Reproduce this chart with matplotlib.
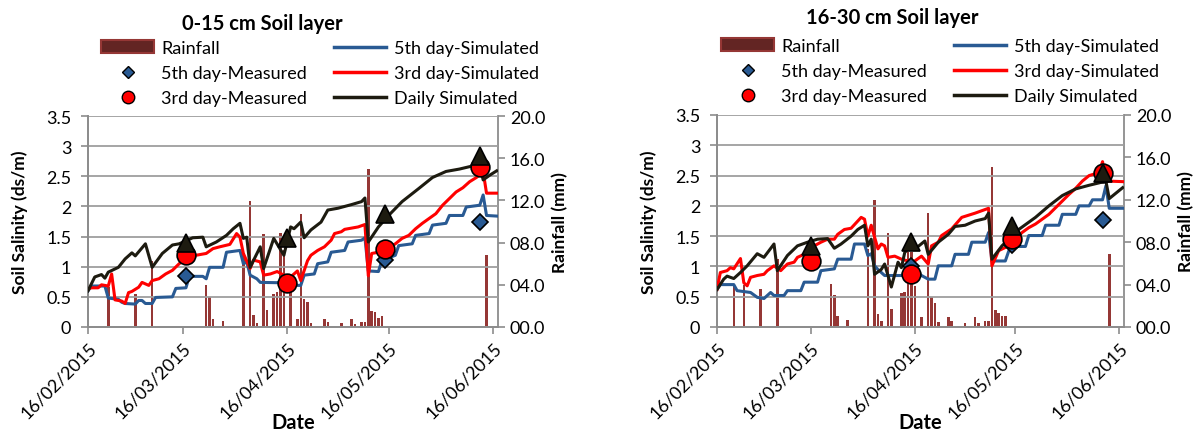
import pandas as pd
import matplotlib
matplotlib.use('Agg')
import matplotlib.pyplot as plt
from matplotlib.patches import Patch
from matplotlib.lines import Line2D

plt.rcParams['font.family'] = ['Lato', 'DejaVu Sans']

start = pd.Timestamp('2015-02-16')
tick_days = [0, 28, 59, 89, 120]
tick_labels = ['16/02/2015', '16/03/2015', '16/04/2015', '16/05/2015', '16/06/2015']

BLUE = '#295A93'
RED = '#FF0000'
BLACK = '#1D1B10'
RAIN = '#953735'

# ---------- 0-15 cm (days after 16/02/2015) ----------
top_daily_day = [0, 2, 4, 5, 6, 9, 11, 13, 14, 17, 19, 22, 25, 27, 31, 34, 35, 38, 41, 43, 45, 46, 47, 48,
                 51, 52, 55, 58, 60, 61, 63, 64, 66, 69, 71, 74, 78, 81, 82, 83, 86, 89, 93, 98, 102, 106,
                 110, 113, 116, 117, 119, 121]
top_daily_val = [0.60, 0.83, 0.87, 0.81, 0.91, 0.99, 1.13, 1.23, 1.18, 1.38, 0.99, 1.22, 1.36, 1.38, 1.48,
                 1.49, 1.33, 1.41, 1.52, 1.63, 1.72, 1.47, 1.49, 0.99, 1.33, 0.97, 1.47, 1.19, 1.66, 1.63,
                 1.74, 1.48, 1.61, 1.74, 1.94, 1.97, 2.03, 2.08, 2.14, 1.41, 1.66, 1.85, 2.08, 2.30, 2.48,
                 2.58, 2.62, 2.66, 2.69, 2.44, 2.52, 2.59]

top_3rd_day = [0, 1, 3, 4, 6, 7, 8, 10, 11, 12, 13, 15, 16, 18, 19, 21, 23, 25, 27, 29, 32, 35, 37, 39, 42,
               44, 45, 46, 48, 49, 51, 52, 54, 56, 58, 60, 62, 63, 65, 66, 68, 70, 72, 73, 75, 76, 78, 80,
               82, 83, 84, 86, 88, 91, 93, 95, 97, 99, 101, 103, 105, 107, 109, 111, 113, 115, 117, 118, 121]
top_3rd_val = [0.63, 0.65, 0.65, 0.70, 0.68, 0.88, 0.45, 0.43, 0.39, 0.57, 0.59, 0.66, 0.74, 0.69, 0.77,
               0.80, 0.88, 0.94, 1.05, 1.13, 1.19, 1.22, 1.30, 1.33, 1.37, 1.55, 1.49, 1.22, 0.97, 1.11,
               1.08, 0.86, 0.88, 0.92, 0.86, 0.83, 0.93, 0.77, 1.10, 1.19, 1.27, 1.33, 1.44, 1.55, 1.58,
               1.62, 1.64, 1.66, 1.70, 0.85, 1.22, 1.24, 1.27, 1.38, 1.47, 1.52, 1.63, 1.72, 1.80, 1.88,
               2.02, 2.13, 2.24, 2.31, 2.41, 2.48, 2.58, 2.22, 2.22]

top_5th_day = [0, 1, 5, 6, 9, 10, 11, 14, 15, 16, 17, 19, 20, 25, 26, 29, 30, 34, 35, 36, 40, 41, 45, 46,
               47, 48, 50, 51, 61, 62, 63, 64, 67, 68, 71, 72, 76, 77, 81, 82, 83, 86, 87, 91, 92, 96, 97,
               101, 102, 106, 107, 111, 112, 116, 117, 118, 121]
top_5th_val = [0.60, 0.68, 0.68, 0.48, 0.46, 0.41, 0.39, 0.38, 0.44, 0.44, 0.39, 0.39, 0.49, 0.50, 0.64,
               0.65, 0.84, 0.84, 0.80, 0.99, 0.99, 1.24, 1.27, 1.05, 1.08, 0.86, 0.80, 0.74, 0.73, 0.69,
               0.69, 0.86, 0.88, 1.05, 1.08, 1.24, 1.27, 1.41, 1.44, 1.48, 0.93, 0.92, 1.10, 1.19, 1.35,
               1.38, 1.52, 1.55, 1.69, 1.72, 1.85, 1.85, 1.99, 2.02, 2.19, 1.85, 1.84]

top_meas_day = [29, 59, 88, 116]
top_5th_meas = [0.84, 0.72, 1.11, 1.74]
top_3rd_meas = [1.19, 0.73, 1.29, 2.66]
top_daily_meas = [1.39, 1.48, 1.87, 2.83]

top_rain_day = [6, 14, 19, 35, 36, 37, 40, 46, 48, 49, 50, 52, 53, 55, 56, 57, 58, 60, 62, 63, 64, 65, 66,
                70, 71, 75, 78, 79, 81, 82, 83, 84, 85, 86, 87, 118]
top_rain_mm = [3.8, 3.1, 6.3, 4.0, 2.8, 0.8, 0.6, 7.0, 11.9, 1.1, 0.4, 8.8, 1.6, 3.1, 3.3, 8.9, 7.3, 3.3,
               0.8, 10.7, 2.7, 2.4, 0.4, 0.8, 0.5, 0.4, 0.8, 0.3, 0.5, 0.5, 15.0, 1.5, 1.4, 0.9, 1.0, 6.8]

# ---------- 16-30 cm ----------
sub_daily_day = [0, 2, 3, 5, 7, 9, 12, 14, 17, 18, 21, 24, 27, 30, 33, 35, 37, 40, 42, 44, 45, 46, 47, 49,
                 50, 52, 54, 55, 56, 57, 60, 62, 63, 66, 69, 71, 74, 77, 80, 81, 82, 85, 90, 95, 99, 103,
                 107, 111, 114, 116, 117, 119, 121]
sub_daily_val = [0.62, 0.79, 0.84, 0.80, 0.90, 1.01, 1.21, 1.15, 1.37, 0.93, 1.18, 1.34, 1.40, 1.45, 1.46,
                 1.30, 1.37, 1.50, 1.61, 1.68, 1.34, 1.45, 0.87, 0.95, 1.04, 0.66, 1.07, 0.98, 1.23, 1.29,
                 1.33, 1.42, 1.20, 1.40, 1.53, 1.66, 1.68, 1.75, 1.79, 1.88, 1.12, 1.34, 1.61, 1.81, 2.00,
                 2.17, 2.28, 2.34, 2.38, 2.41, 2.12, 2.21, 2.30]

sub_3rd_day = [0, 1, 3, 4, 5, 7, 8, 9, 10, 12, 14, 15, 17, 19, 21, 23, 24, 26, 29, 31, 33, 35, 36, 38, 40,
               43, 44, 45, 46, 48, 49, 50, 51, 53, 55, 57, 59, 61, 63, 64, 66, 67, 70, 73, 77, 79, 81, 82,
               84, 87, 89, 91, 93, 95, 97, 99, 101, 103, 105, 107, 109, 111, 114, 115, 116, 121]
sub_3rd_val = [0.62, 0.90, 0.93, 0.98, 0.96, 1.13, 0.73, 0.68, 0.82, 0.85, 0.87, 0.93, 1.01, 0.93, 1.04,
               1.07, 1.15, 1.20, 1.34, 1.40, 1.45, 1.45, 1.53, 1.61, 1.63, 1.81, 1.78, 1.50, 1.68, 1.29,
               1.37, 1.34, 1.15, 1.17, 1.12, 1.09, 1.09, 1.17, 1.04, 1.34, 1.40, 1.51, 1.62, 1.81, 1.88,
               1.92, 1.96, 1.01, 1.26, 1.34, 1.45, 1.56, 1.64, 1.70, 1.78, 1.86, 1.97, 2.08, 2.19, 2.29,
               2.41, 2.50, 2.55, 2.73, 2.41, 2.40]

sub_5th_day = [0, 1, 5, 6, 10, 12, 14, 16, 17, 20, 21, 25, 26, 30, 31, 35, 36, 40, 41, 44, 45, 46, 47, 48,
               50, 55, 58, 60, 61, 63, 65, 66, 70, 71, 75, 76, 80, 81, 82, 86, 87, 88, 92, 93, 97, 98, 102,
               103, 107, 108, 111, 112, 115, 116, 117, 121]
sub_5th_val = [0.62, 0.70, 0.70, 0.60, 0.57, 0.49, 0.47, 0.57, 0.52, 0.52, 0.60, 0.60, 0.74, 0.74, 0.93,
               0.96, 1.12, 1.12, 1.37, 1.37, 1.18, 1.21, 1.01, 0.95, 0.85, 0.85, 0.98, 0.90, 0.85, 0.79,
               0.79, 1.01, 1.01, 1.20, 1.20, 1.40, 1.40, 1.56, 1.09, 1.09, 1.25, 1.33, 1.33, 1.51, 1.51,
               1.68, 1.68, 1.86, 1.86, 2.00, 2.00, 2.10, 2.10, 2.33, 1.96, 1.96]

sub_meas_day = [28, 58, 88, 115]
sub_5th_meas = [1.08, 1.01, 1.35, 1.77]
sub_3rd_meas = [1.09, 0.87, 1.45, 2.55]
sub_daily_meas = [1.34, 1.41, 1.66, 2.54]

sub_rain_day = [5, 8, 13, 18, 34, 35, 36, 39, 45, 47, 48, 49, 51, 52, 55, 56, 57, 58, 59, 61, 63, 64, 65,
                66, 69, 70, 74, 77, 78, 80, 81, 82, 83, 84, 85, 86, 117]
sub_rain_mm = [3.9, 4.0, 3.6, 6.4, 4.1, 3.0, 1.0, 0.7, 7.4, 12.0, 1.2, 0.6, 8.9, 1.7, 3.2, 3.3, 7.1, 7.1,
               3.9, 0.9, 10.8, 2.8, 2.3, 0.5, 0.9, 0.6, 0.4, 0.9, 0.4, 0.6, 0.6, 15.1, 1.6, 1.3, 1.0, 1.0, 6.9]


def to_dates(days):
    return [start + pd.Timedelta(days=d) for d in days]


def draw_panel(ax, title, tx, ty, lx, ly, daily_d, daily_v, d3, v3, d5, v5,
               md, m5, m3, mdaily, rd, rmm):
    ax2 = ax.twinx()
    ax.set_zorder(ax2.get_zorder() + 1)
    ax.patch.set_visible(False)

    ax2.bar(to_dates(rd), rmm, width=0.75, color=RAIN)
    ax2.set_ylim(0, 20)
    ax2.set_yticks(range(0, 21, 4))
    ax2.set_yticklabels(['%04.1f' % v for v in range(0, 21, 4)], fontsize=13)
    ax2.set_ylabel('Rainfall (mm)', fontsize=12.5, fontweight='bold', labelpad=5)

    ax.plot(to_dates(d5), v5, color=BLUE, lw=2.2, zorder=3)
    ax.plot(to_dates(d3), v3, color=RED, lw=2.2, zorder=3)
    ax.plot(to_dates(daily_d), daily_v, color=BLACK, lw=2.2, zorder=3)
    ax.plot(to_dates(md), m5, ls='none', marker='D', ms=8.5, mfc=BLUE, mec='black', mew=1.2, zorder=4)
    ax.plot(to_dates(md), m3, ls='none', marker='o', ms=13.5, mfc=RED, mec='black', mew=1.2, zorder=5)
    ax.plot(to_dates(md), mdaily, ls='none', marker='^', ms=13.5, mfc=BLACK, mec='black', mew=1.2, zorder=6)

    ax.set_ylim(0, 3.5)
    yt = [0, 0.5, 1, 1.5, 2, 2.5, 3, 3.5]
    ax.set_yticks(yt)
    ax.set_yticklabels(['%g' % v for v in yt], fontsize=13)
    ax.set_ylabel('Soil Salinity (ds/m)', fontsize=12.5, fontweight='bold', labelpad=13)
    ax.grid(axis='y', color='#9E9E9E', lw=1.3)

    ax.set_xlim(start, start + pd.Timedelta(days=121.4))
    ax.set_xticks(to_dates(tick_days))
    ax.set_xticklabels(tick_labels, rotation=45, ha='right', rotation_mode='anchor', fontsize=13)
    ax.set_xlabel('Date', fontsize=14.5, fontweight='bold', labelpad=-6)

    for a in (ax, ax2):
        a.spines['top'].set_visible(False)
        for s in ('left', 'right', 'bottom'):
            a.spines[s].set_color('#8C8C8C')
            a.spines[s].set_linewidth(1.3)
        a.tick_params(color='#8C8C8C', width=1.2, length=5)
    ax.tick_params(axis='y', pad=7)
    ax.spines['right'].set_visible(False)

    fig.text(tx, ty, title, ha='center', va='center', fontsize=14.5, fontweight='bold')

    handles = [Patch(facecolor='#632523', edgecolor=RAIN, lw=1.5),
               Line2D([], [], ls='none', marker='D', ms=6.5, mfc=BLUE, mec='black'),
               Line2D([], [], ls='none', marker='o', ms=9, mfc=RED, mec='black'),
               Line2D([], [], color=BLUE, lw=2.5),
               Line2D([], [], color=RED, lw=2.5),
               Line2D([], [], color=BLACK, lw=2.5)]
    labels = ['Rainfall', '5th day-Measured', '3rd day-Measured',
              '5th day-Simulated', '3rd day-Simulated', 'Daily Simulated']
    fig.legend(handles, labels, ncol=2, loc='center', bbox_to_anchor=(lx, ly), frameon=False,
               fontsize=13, handlelength=2.9, handletextpad=0.4, columnspacing=1.5,
               labelspacing=0.5, borderpad=0)


fig = plt.figure(figsize=(12.03, 4.31), dpi=100)
ax_a = fig.add_axes([88 / 1203, 1 - 328 / 431, 410 / 1203, 211 / 431])
ax_b = fig.add_axes([717 / 1203, 1 - 328 / 431, 407 / 1203, 212 / 431])

draw_panel(ax_a, '0-15 cm Soil layer', 262 / 1203, 1 - 24 / 431, 320 / 1203, 1 - 74 / 431,
           top_daily_day, top_daily_val, top_3rd_day, top_3rd_val, top_5th_day, top_5th_val,
           top_meas_day, top_5th_meas, top_3rd_meas, top_daily_meas, top_rain_day, top_rain_mm)
draw_panel(ax_b, '16-30 cm Soil layer', 892 / 1203, 1 - 18 / 431, 940 / 1203, 1 - 72 / 431,
           sub_daily_day, sub_daily_val, sub_3rd_day, sub_3rd_val, sub_5th_day, sub_5th_val,
           sub_meas_day, sub_5th_meas, sub_3rd_meas, sub_daily_meas, sub_rain_day, sub_rain_mm)

fig.savefig('out.png', dpi=100)
